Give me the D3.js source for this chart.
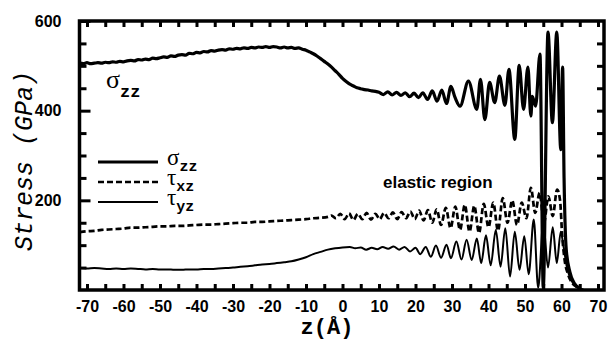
<!DOCTYPE html>
<html>
<head>
<meta charset="utf-8">
<script src="https://cdn.jsdelivr.net/npm/d3@7"></script>
<style>
  html, body { margin: 0; padding: 0; background: #fff; }
  svg { display: block; }
</style>
</head>
<body>
<svg id="chart" width="611" height="346"></svg>
<script>
// ---------------- data ----------------
const zSigma = [
  -72,-71,-70,-69,-68,-67,-66,-65,-64,-63,-62,-61,-60,-59,-58,-57,-56,-55,-54,-53,-52,-51,-50,-49,-48,-47,-46,-45,-44,-43,-42,-41,-40,-39,-38,-37,-36,-35,-34,-33,-32,-31,-30,-29,-28,-27,-26,-25,-24,-23,-22,-21,-20,-19,-18,-17,-16,-15,-14,-13,-12,-11,-10,-9,-8,-7,-6,-5,-4,-3,-2,-1,0,1,2,3,4,5,6,7,8,9,10,
  11.2,12.4,13.6,14.8,16,17.2,18.4,19.6,20.8,22,23.3,24.6,25.9,27.2,28.5,29.7,30.8,32.2,34.5,36.8,37.8,39,40.3,41.7,43,44.5,45.6,47.2,48.4,49.6,50.8,51.6,52,52.9,54.1,55,56.3,57.5,58.7,59.8,60.3,60.7,61.3,62.3,63.5,65
];
const sigmaZZ = [
  506,505,507,505,506,507,506,508,507,509,508,510,509,511,512,511,514,513,515,514,517,516,518,520,519,522,521,524,525,524,528,527,530,529,532,531,534,533,535,536,535,538,537,539,538,540,539,541,540,542,541,543,541,543,542,540,542,540,541,539,540,537,535,531,527,522,516,510,504,497,489,481,472,465,459,455,451,449,447,446,444,443,441,
  436,442,435,441,434,440,431,439,429,440,425,444,421,446,416,454,430,410,466,403,470,380,463,418,477,412,492,336,501,403,497,388,432,410,526,5,575,373,575,313,497,250,90,40,15,4,0
];

const zTauXZ = [
  -72,-70,-68,-66,-64,-62,-60,-58,-56,-54,-52,-50,-48,-46,-44,-42,-40,-38,-36,-34,-32,-30,-28,-26,-24,-22,-20,-18,-16,-14,-12,-10,-8,-6,-4,
  -3,-1.8,-0.6,0.6,1.8,3,4.2,5.4,6.6,7.8,9,10.2,11.4,12.6,13.8,15,16.2,17.4,18.6,19.8,21,22.2,23.4,24.6,25.8,27,28.3,29.6,30.9,32.2,33.5,34.8,36.1,37.4,38.7,40,41.3,42.6,43.9,45.2,46.5,47.8,49.1,50.4,51.6,52.8,54,55.2,56.4,57.6,58.8,59.6,60.2,60.8,61.8,63,64.5,66
];
const tauXZ = [
  129,131,132,134,135,136,137,139,139,140,141,142,142,143,143,144,145,146,146,147,148,149,150,150,152,152,153,154,155,156,157,158,160,161,163,
  166,160,170,158,171,156,170,158,172,157,170,158,172,160,173,158,174,160,175,158,177,155,178,150,180,145,183,138,186,134,190,130,188,127,192,140,195,132,205,150,200,145,195,160,228,172,217,150,209,165,224,200,120,70,35,15,5,0
];

const zTauYZ = [
  -72,-70,-68,-66,-64,-62,-60,-58,-56,-54,-52,-50,-48,-46,-44,-42,-40,-38,-36,-34,-32,-30,-28,-26,-24,-22,-20,-18,-16,-14,-12,-10,-8,-6,-4,-2,0,2,
  3.5,5,6.5,8,9.5,11,12.5,14,15.5,17,18.5,20,21.3,22.8,24.2,25.6,27,28.5,29.7,31.2,32.6,34,35.4,36.8,38,39.3,40.6,42,43.3,44.6,45.9,47.2,48.5,49.8,51,52.4,53.6,55,56.3,57.6,58.7,59.8,60.5,61.5,62.5,64,66
];
const tauYZ = [
  49,48,49,48,47,48,47,48,47,46,47,46,46,45,45,46,46,47,47,48,49,50,52,53,55,57,58,60,62,64,68,73,80,85,90,93,95,96,
  93,95,90,94,91,96,92,97,90,96,86,94,80,96,74,99,72,101,71,108,68,112,67,115,60,122,55,134,52,138,30,130,45,120,35,157,5,150,50,140,60,130,100,50,25,8,0
];

const xLabelTicks = [-70,-60,-50,-40,-30,-20,-10,0,10,20,30,40,50,60,70];
const xMinorTicks = [-70,-65,-60,-55,-50,-45,-40,-35,-30,-25,-20,-15,-10,-5,0,5,10,15,20,25,30,35,40,45,50,55,60,65,70];
const yLabelTicks = [200,400,600];
const yMinorTicks = [50,100,150,250,300,350,450,500,550];

const xTitle = "z(\u00C5)";
const yTitle = "Stress  (GPa)";
const annotation = "elastic region";

// ---------------- drawing ----------------
const svg = d3.select("#chart");
const X0 = 79.5, X1 = 604, Y0 = 21, Y1 = 290;
const x = d3.scaleLinear().domain([-72.05, 71.64]).range([X0, X1]);
const y = d3.scaleLinear().domain([0, 600]).range([Y1, Y0]);

svg.append("defs").append("clipPath").attr("id", "clip")
  .append("rect").attr("x", X0).attr("y", Y0).attr("width", X1 - X0).attr("height", Y1 - Y0);

function mk(zs, vs) { return zs.map((z, i) => [z, vs[i]]); }
const line = d3.line().x(d => x(d[0])).y(d => y(d[1])).curve(d3.curveMonotoneX);

const g = svg.append("g").attr("clip-path", "url(#clip)");
g.append("path").datum(mk(zTauYZ, tauYZ)).attr("d", line)
  .attr("fill", "none").attr("stroke", "#000").attr("stroke-width", 2);
g.append("path").datum(mk(zTauXZ, tauXZ)).attr("d", line)
  .attr("fill", "none").attr("stroke", "#000").attr("stroke-width", 2.7)
  .attr("stroke-dasharray", "6,3");
g.append("path").datum(mk(zSigma, sigmaZZ)).attr("d", line)
  .attr("fill", "none").attr("stroke", "#000").attr("stroke-width", 3.2)
  .attr("stroke-linejoin", "round");

const fmt = d => String(d); // plain hyphen-minus as in the reference

function styleAxis(sel) {
  sel.attr("font-family", "'Liberation Sans', Arial, sans-serif").attr("font-size", 16).attr("font-weight", 700);
  sel.select(".domain").remove();
  sel.selectAll(".tick line").attr("stroke", "#000").attr("stroke-width", 3);
  sel.selectAll("text").attr("fill", "#000")
    .style("font-family", "'Liberation Sans', Arial, sans-serif")
    .style("font-weight", "700").style("font-size", "16px");
}
svg.append("g").attr("transform", `translate(0,${Y1})`)
  .call(d3.axisBottom(x).tickValues(xMinorTicks).tickSize(-6).tickFormat(""))
  .call(styleAxis);
svg.append("g").attr("transform", `translate(0,${Y1})`)
  .call(d3.axisBottom(x).tickValues(xLabelTicks).tickSize(0).tickPadding(10.5).tickFormat(fmt))
  .call(styleAxis);
svg.append("g").attr("transform", `translate(0,${Y0})`)
  .call(d3.axisTop(x).tickValues(xMinorTicks).tickSize(-6).tickFormat(""))
  .call(styleAxis);
svg.append("g").attr("transform", `translate(${X0},0)`)
  .call(d3.axisLeft(y).tickValues(yMinorTicks).tickSize(-7).tickFormat(""))
  .call(styleAxis);
svg.append("g").attr("transform", `translate(${X0},0)`)
  .call(d3.axisLeft(y).tickValues(yLabelTicks).tickSize(-11).tickPadding(7 + 11).tickFormat(fmt))
  .call(styleAxis);
svg.append("g").attr("transform", `translate(${X1},0)`)
  .call(d3.axisRight(y).tickValues(yMinorTicks.concat(yLabelTicks.filter(v => v < 600))).tickSize(-7).tickFormat(""))
  .call(styleAxis);

// frame
svg.append("rect").attr("x", X0).attr("y", Y0).attr("width", X1 - X0).attr("height", Y1 - Y0)
  .attr("fill", "none").attr("stroke", "#000").attr("stroke-width", 3.5);

// titles
svg.append("text").attr("x", 327).attr("y", 334).attr("text-anchor", "middle")
  .style("font-family", "'Liberation Mono', 'Courier New', monospace")
  .style("font-weight", "bold").style("font-size", "22px").text(xTitle);
svg.append("text").attr("transform", "translate(32,161) rotate(-90)").attr("text-anchor", "middle")
  .style("font-family", "'Liberation Mono', 'Courier New', monospace")
  .style("font-style", "italic").style("font-size", "25px").text(yTitle);

svg.append("text").attr("x", 383).attr("y", 188)
  .style("font-family", "'Liberation Sans', Arial, sans-serif")
  .style("font-weight", "bold").style("font-size", "17px").text(annotation);

// symbol labels
function symLabel(xp, yp, sym, sub, subDy, symSize, subSize) {
  const t = svg.append("text").attr("x", xp).attr("y", yp);
  t.append("tspan").style("font-family", "'Liberation Serif', 'Times New Roman', serif")
    .style("font-size", symSize + "px").text(sym);
  t.append("tspan").attr("dy", subDy)
    .style("font-family", "'Liberation Mono', 'Courier New', monospace")
    .style("font-weight", "bold").style("font-size", subSize + "px").text(sub);
}
symLabel(106, 88, "\u03C3", "zz", 9, 26, 17);

// legend
const legendItems = [
  {sym: "\u03C3", sub: "zz", w: 3.2, dash: null},
  {sym: "\u03C4", sub: "xz", w: 2.7, dash: "6,3"},
  {sym: "\u03C4", sub: "yz", w: 2, dash: null}
];
legendItems.forEach((d, i) => {
  const ly = 162 + i * 20;
  svg.append("line").attr("x1", 98).attr("x2", 158).attr("y1", ly).attr("y2", ly)
    .attr("stroke", "#000").attr("stroke-width", d.w).attr("stroke-dasharray", d.dash);
  symLabel(167, ly + 3, d.sym, d.sub, 6, 23, 15);
});
</script>
</body>
</html>
